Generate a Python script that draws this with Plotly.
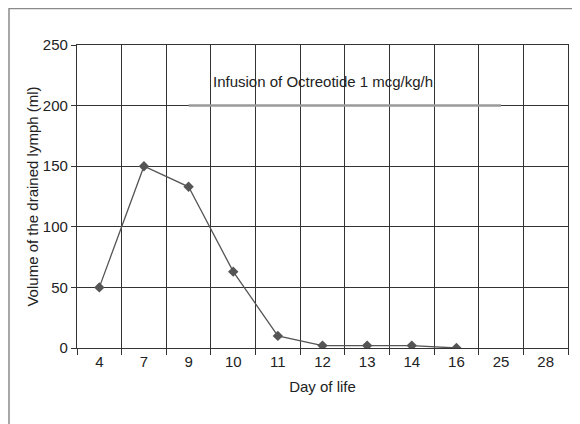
import plotly.graph_objects as go

days = ["4", "7", "9", "10", "11", "12", "13", "14", "16", "25", "28"]
lymph_days = ["4", "7", "9", "10", "11", "12", "13", "14", "16"]
lymph_ml = [50, 150, 133, 63, 10, 2, 2, 2, 0]
infusion_days = ["9", "25"]
infusion_level = [200, 200]
infusion_label = "Infusion of Octreotide 1 mcg/kg/h"

FONT = "Liberation Sans, Arial, sans-serif"

L, T, W, H = 69, 37, 491, 303

fig = go.Figure()
fig.add_trace(go.Scatter(
    x=infusion_days, y=infusion_level, mode="lines",
    line=dict(color="#9a9a9a", width=2.5), hoverinfo="skip", showlegend=False))
fig.add_trace(go.Scatter(
    x=lymph_days, y=lymph_ml, mode="lines+markers",
    line=dict(color="#555555", width=1.3),
    marker=dict(symbol="diamond", size=8, color="#555555"),
    showlegend=False))

fig.add_annotation(x=5, y=220, xref="x", yref="y", text=infusion_label,
                   showarrow=False, font=dict(family=FONT, size=15, color="#222"))

fig.add_shape(type="rect", xref="paper", yref="paper",
              x0=(1 - L) / W, x1=(570 - L) / W,
              y0=(T + H - 440) / H, y1=(T + H - 0.5) / H,
              line=dict(color="#8a8a8a", width=1.5), layer="below")

fig.update_xaxes(type="category", categoryorder="array", categoryarray=days,
                 range=[-0.5, 10.5], tickson="boundaries",
                 showgrid=True, gridcolor="#333333", gridwidth=1.2,
                 showline=True, linecolor="#333333", linewidth=1.3, mirror=True,
                 ticks="outside", ticklen=6, tickcolor="#333333",
                 tickfont=dict(family=FONT, size=15, color="#222"),
                 title=dict(text="Day of life", font=dict(family=FONT, size=15, color="#222"), standoff=12),
                 zeroline=False)
fig.update_yaxes(range=[0, 250], dtick=50,
                 showgrid=True, gridcolor="#333333", gridwidth=1.2,
                 showline=True, linecolor="#333333", linewidth=1.3, mirror=True,
                 ticks="outside", ticklen=5, tickcolor="#333333",
                 tickfont=dict(family=FONT, size=15, color="#222"),
                 title=dict(text="Volume of the drained lymph (ml)", font=dict(family=FONT, size=15, color="#222"), standoff=0),
                 zeroline=False)

fig.update_layout(width=580, height=424,
                  margin=dict(l=L, r=580 - L - W, t=T, b=424 - T - H, autoexpand=False),
                  paper_bgcolor="white", plot_bgcolor="white")

fig.write_html("out.html")
